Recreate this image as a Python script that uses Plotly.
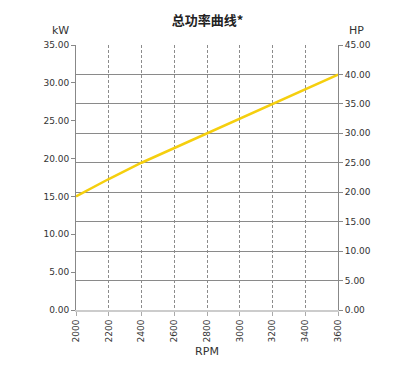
import plotly.graph_objects as go

rpm = [2000, 2200, 2400, 2600, 2800, 3000, 3200, 3400, 3600]
kw = [15.0, 17.3, 19.45, 21.4, 23.3, 25.3, 27.2, 29.2, 31.1]
kw_ticks = [0, 5, 10, 15, 20, 25, 30, 35]
hp_ticks = [0, 5, 10, 15, 20, 25, 30, 35, 40, 45]

font_main = "DejaVu Sans, Liberation Sans, sans-serif"

fig = go.Figure()
fig.add_trace(go.Scatter(x=rpm, y=kw, mode="lines",
                         line=dict(color="#F5CF0E", width=2.5),
                         hoverinfo="skip", showlegend=False))
fig.add_trace(go.Scatter(x=[None], y=[None], yaxis="y2", mode="lines",
                         showlegend=False, hoverinfo="skip"))

pw, ph = 415 - 76 - 77, 369 - 45 - 59

fig.update_layout(
    width=415, height=369,
    margin=dict(l=76, r=77, t=45, b=59),
    paper_bgcolor="white", plot_bgcolor="white",
    title=dict(text="<b>总功率曲线*</b>", x=0.5, xanchor="center", y=1 - 20 / 369, yanchor="middle",
               font=dict(family="Noto Sans CJK SC", size=13, color="#222")),
    xaxis=dict(range=[2000, 3600], tickvals=rpm, ticktext=[str(v) for v in rpm],
               tickangle=-90, showgrid=True, gridcolor="#8c8c8c", griddash="3px,2px", gridwidth=1,
               showline=True, linecolor="#cccccc", linewidth=2,
               ticks="outside", ticklen=4, tickcolor="#aaa",
               tickfont=dict(family=font_main, size=9, color="#333"),
               title=dict(text="RPM", font=dict(family=font_main, size=11, color="#333"), standoff=6),
               zeroline=False),
    yaxis=dict(range=[0, 35], tickvals=kw_ticks, ticktext=[f"{v:.2f}" for v in kw_ticks],
               showgrid=False, showline=True, linecolor="#888", linewidth=1,
               ticks="outside", ticklen=4, tickcolor="#888",
               tickfont=dict(family=font_main, size=9, color="#333"), zeroline=False),
    yaxis2=dict(range=[0, 45], tickvals=hp_ticks, ticktext=[f"{v:.2f}" for v in hp_ticks],
                overlaying="y", side="right", anchor="x",
                showgrid=True, gridcolor="#8a8a8a", gridwidth=1,
                showline=True, linecolor="#888", linewidth=1,
                ticks="outside", ticklen=4, tickcolor="#888",
                tickfont=dict(family=font_main, size=9, color="#333"), zeroline=False),
    annotations=[
        dict(text="kW", x=(60 - 76) / pw, y=(310 - 30) / ph, xref="paper", yref="paper",
             xanchor="center", yanchor="middle", showarrow=False,
             font=dict(family=font_main, size=11, color="#333")),
        dict(text="HP", x=(356 - 76) / pw, y=(310 - 30) / ph, xref="paper", yref="paper",
             xanchor="center", yanchor="middle", showarrow=False,
             font=dict(family=font_main, size=11, color="#333")),
    ],
)

fig.write_html("out.html")
